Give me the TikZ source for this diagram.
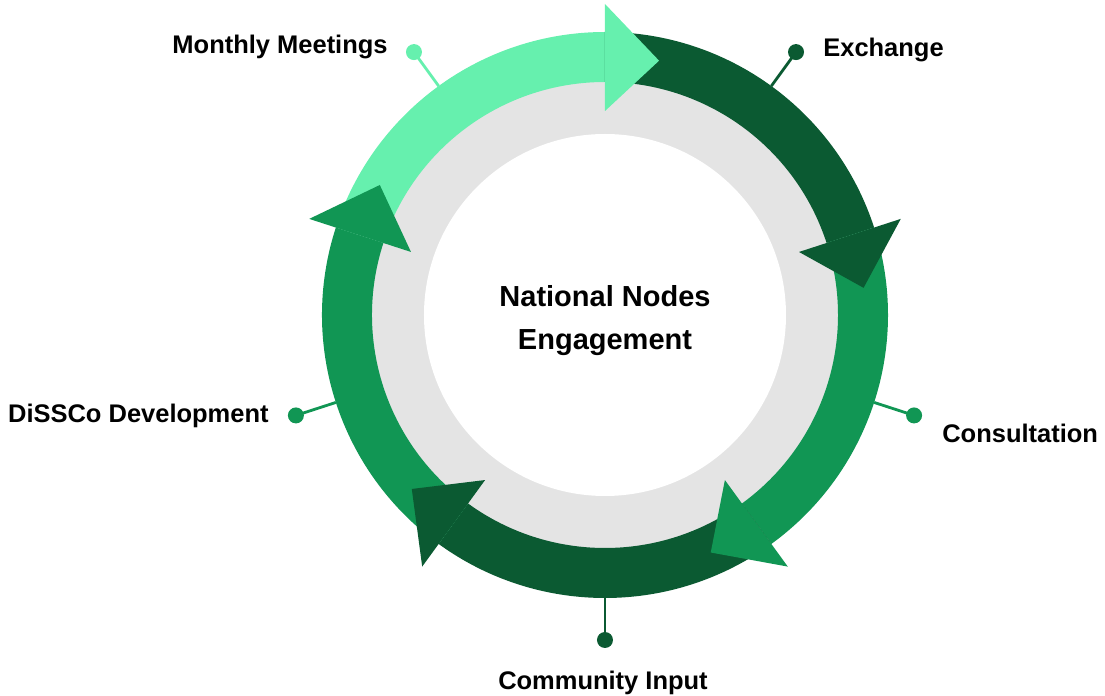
\documentclass[tikz,border=0pt]{standalone}
\usepackage{fontspec}
\setmainfont{Liberation Sans}
\definecolor{lightgr}{HTML}{66F0AE}
\definecolor{darkgr}{HTML}{0B5A32}
\definecolor{midgr}{HTML}{119654}
\definecolor{ringgray}{HTML}{E4E4E4}

\begin{document}
\begin{tikzpicture}[
	lbl/.style={font=\bfseries\fontsize{14.5}{17}\selectfont,inner sep=0pt},
	pin/.style={circle,fill=#1,inner sep=0pt,minimum size=0.32cm},
	]
	\useasboundingbox (-12.1,-7.62) rectangle (10,6.3);
	
	\fill[ringgray] (0,0) circle (5.2);
	\fill[white] (0,0) circle (3.62);
	
	% bands
	\foreach \i/\col in {0/lightgr,1/darkgr,2/midgr,3/darkgr,4/midgr}{
		\pgfmathsetmacro{\s}{162-72*\i}
		\pgfmathsetmacro{\e}{\s-72}
		\fill[\col] (\s:5.66) arc[start angle=\s,end angle=\e,radius=5.66]
			-- (\e:4.66) arc[start angle=\e,end angle=\s,radius=4.66] -- cycle;
	}
	
	% heads
	\foreach \i/\col in {0/lightgr,1/darkgr,2/midgr,3/darkgr,4/midgr}{
		\pgfmathsetmacro{\e}{90-72*\i}
		\pgfmathsetmacro{\hd}{\e-12}
		\fill[\col] (\e:4.08) -- (\e:6.22) -- (\hd:5.2) -- cycle;
	}
	
	\foreach \n/\a/\col in {1/126/lightgr,2/54/darkgr,3/-18/midgr,4/-90/darkgr,5/198/midgr}{
		\coordinate (r\n) at (\a:5.66);
		\node[pin=\col] (p\n) at (\a:6.5) {};
		\draw[\col,line width=1.6pt] (r\n) -- (p\n.center);
	}
	
	\node[lbl,anchor=base east] (monthly) at (-4.34,5.22) {Monthly Meetings};
	\node[lbl,anchor=base west] (exchange) at (4.36,5.16) {Exchange};
	\node[lbl,anchor=base west] (consult) at (6.74,-2.56) {Consultation};
	\node[lbl,anchor=base] (community) at (-0.04,-7.5) {Community Input};
	\node[lbl,anchor=base east] (dissco) at (-6.72,-2.16) {DiSSCo Development};
	
	\node[font=\bfseries\fontsize{16.5}{24.5}\selectfont,align=center] (centre) at (0,-0.12) {National Nodes\\Engagement};
\end{tikzpicture}
\end{document}
